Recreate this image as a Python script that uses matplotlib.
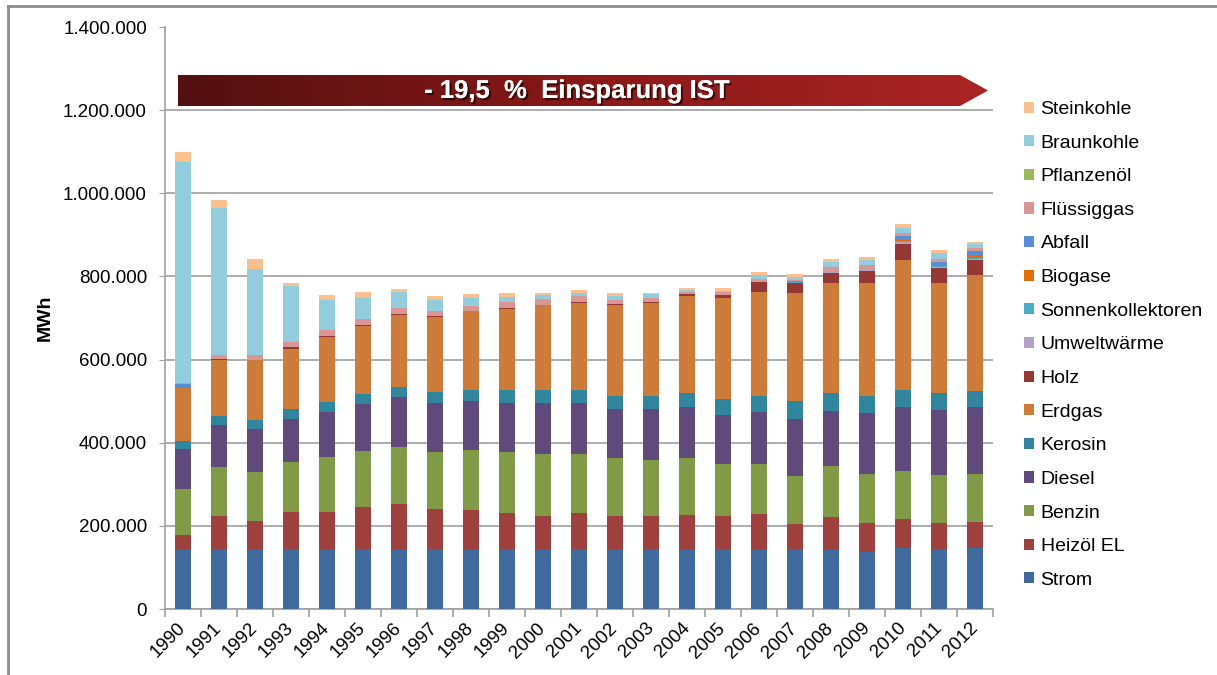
import matplotlib
matplotlib.use('Agg')
import matplotlib.pyplot as plt
import matplotlib.patheffects as pe
from matplotlib.colors import LinearSegmentedColormap
from matplotlib.patches import Polygon
from matplotlib.ticker import FuncFormatter
import numpy as np

plt.rcParams['font.family'] = ['Liberation Sans', 'DejaVu Sans']

years = ['1990', '1991', '1992', '1993', '1994', '1995', '1996', '1997', '1998', '1999', '2000', '2001',
         '2002', '2003', '2004', '2005', '2006', '2007', '2008', '2009', '2010', '2011', '2012']

# MWh per year
strom = [145000, 145000, 145000, 145000, 145000, 145000, 145000, 145000, 145000, 145000, 145000, 145000,
         145000, 145000, 145000, 145000, 145000, 144000, 144000, 138000, 146000, 144000, 146000]
heizoel = [32000, 79000, 66500, 89000, 89000, 101000, 108000, 96500, 92000, 85500, 78000, 85500,
           78000, 78000, 80500, 78000, 83000, 61500, 78500, 69500, 71000, 63000, 64000]
benzin = [111500, 116500, 117500, 120000, 131500, 133500, 136000, 136000, 145500, 147000, 149500, 142500,
          141000, 136000, 138500, 127000, 120000, 114500, 121500, 117500, 115000, 115000, 115000]
diesel = [95500, 101500, 104500, 103000, 107500, 113500, 121000, 118500, 117500, 118500, 123000, 123000,
          117500, 121000, 122500, 116000, 125500, 137000, 133000, 145500, 154500, 157500, 161500]
kerosin = [20000, 22000, 20500, 23000, 25000, 25000, 25000, 27000, 27000, 31000, 31000, 31000,
           32000, 32000, 33500, 38500, 40000, 43000, 41500, 43000, 41000, 41000, 37500]
erdgas = [128000, 134000, 144000, 146500, 156500, 162500, 172000, 178500, 189000, 195000, 204000, 209000,
          217500, 224000, 233500, 243000, 249500, 261000, 265500, 270500, 313000, 263000, 280000]
holz = [0, 3000, 0, 3000, 1000, 3000, 3000, 3000, 1000, 1000, 1000, 3000,
        3000, 3000, 4000, 8000, 23000, 23000, 24000, 29000, 38500, 36000, 36000]
umwelt = [0, 0, 0, 0, 0, 0, 0, 0, 0, 0, 0, 0,
          0, 0, 0, 0, 2000, 1000, 2500, 1500, 3000, 3000, 2500]
sonnen = [0, 0, 0, 0, 0, 0, 0, 0, 0, 0, 0, 0,
          0, 0, 0, 0, 1000, 1000, 1000, 1000, 3000, 1500, 2500]
biogase = [0, 0, 0, 0, 0, 0, 0, 0, 0, 0, 0, 0,
           0, 0, 0, 0, 0, 2500, 0, 1000, 2500, 1500, 7000]
abfall = [9000, 0, 0, 0, 0, 0, 0, 0, 0, 0, 0, 0,
          0, 0, 0, 0, 0, 0, 0, 0, 9500, 9500, 9000]
fluessiggas = [2000, 9500, 12500, 13000, 15500, 13000, 13000, 13000, 12000, 15000, 15000, 13000,
               10500, 9000, 5500, 6500, 4500, 4000, 9500, 8000, 5500, 6500, 8500]
pflanzenoel = [0, 0, 0, 0, 0, 0, 0, 0, 0, 0, 0, 0,
               0, 0, 0, 0, 0, 0, 1000, 3000, 3000, 0, 0]
braunkohle = [532000, 355000, 206500, 134500, 72000, 51000, 38500, 27000, 19000, 12000, 9000, 9000,
              9500, 9000, 5500, 4000, 9500, 6500, 12000, 12000, 11000, 16000, 8000]
steinkohle = [24000, 17500, 24000, 6500, 12000, 14500, 9000, 9500, 9000, 9000, 5000, 7000,
              6500, 4000, 3000, 5500, 6500, 7000, 9000, 7000, 9500, 6500, 6500]

series = [
    ('Strom', strom, '#406A9C'),
    ('Heizöl EL', heizoel, '#9E403E'),
    ('Benzin', benzin, '#809A48'),
    ('Diesel', diesel, '#604A7B'),
    ('Kerosin', kerosin, '#31859C'),
    ('Erdgas', erdgas, '#CC7B38'),
    ('Holz', holz, '#953735'),
    ('Umweltwärme', umwelt, '#B3A2C7'),
    ('Sonnenkollektoren', sonnen, '#4BACC6'),
    ('Biogase', biogase, '#E46C0A'),
    ('Abfall', abfall, '#558ED5'),
    ('Flüssiggas', fluessiggas, '#D99694'),
    ('Pflanzenöl', pflanzenoel, '#9BBB59'),
    ('Braunkohle', braunkohle, '#93CDDD'),
    ('Steinkohle', steinkohle, '#FAC090'),
]

W, H = 1217, 675
fig = plt.figure(figsize=(W / 100, H / 100), dpi=100)
ax = fig.add_axes([165 / W, 66 / H, 828 / W, 582 / H])

x = np.arange(len(years))
bottom = np.zeros(len(years))
handles = []
for name, vals, col in series:
    b = ax.bar(x, vals, 0.42, bottom=bottom, color=col, linewidth=0, label=name, zorder=3)
    bottom += np.array(vals)
    handles.append(b)

ax.set_xlim(-0.5, len(years) - 0.5)
ax.set_ylim(0, 1400000)
ax.set_yticks(np.arange(0, 1400001, 200000))
ax.yaxis.set_major_formatter(FuncFormatter(lambda v, p: f'{int(v):,}'.replace(',', '.')))
ax.yaxis.grid(True, color='#A0A0A0', linewidth=1.2, zorder=0)
ax.get_ygridlines()[-1].set_visible(False)
ax.set_axisbelow(True)

for s in ['top', 'right']:
    ax.spines[s].set_visible(False)
for s in ['left', 'bottom']:
    ax.spines[s].set_color('#A0A0A0')
    ax.spines[s].set_linewidth(1.2)

ax.tick_params(axis='y', length=4, color='#A0A0A0', pad=9, labelsize=13.5)
ax.set_xticks(x)
ax.set_xticklabels(years, rotation=45, ha='right', va='center', rotation_mode='anchor', fontsize=13.5)
ax.tick_params(axis='x', which='major', length=0, pad=12)
ax.set_xticks(np.arange(-0.5, len(years)), minor=True)
ax.tick_params(axis='x', which='minor', length=6, color='#A0A0A0', width=1.2)

fig.text(45 / W, 1 - 318 / H, 'MWh', rotation=90, ha='center', va='center', fontsize=14, fontweight='bold')

fig.legend(handles[::-1], [s[0] for s in series][::-1], loc='upper left',
           bbox_to_anchor=(1024 / W, 1 - 101 / H), frameon=False, fontsize=14,
           labelspacing=0.855, handlelength=0.5, handleheight=0.5, handletextpad=0.35,
           borderpad=0, borderaxespad=0)

# overlay in pixel coordinates for frame and banner
ov = fig.add_axes([0, 0, 1, 1], zorder=10)
ov.set_xlim(0, W)
ov.set_ylim(H, 0)
ov.axis('off')
ov.patch.set_alpha(0)

ov.plot([8, W], [5.5, 5.5], color='#8C8C8C', lw=2)
ov.plot([8, 8], [5.5, H], color='#8C8C8C', lw=2)

arrow = Polygon([(178, 75), (960, 75), (988, 90.5), (960, 106), (178, 106)], closed=True,
                facecolor='none', edgecolor='none')
ov.add_patch(arrow)
cmap = LinearSegmentedColormap.from_list('banner', ['#521010', '#8A1818', '#AA2424'])
grad = np.linspace(0, 1, 256).reshape(1, -1)
im = ov.imshow(grad, cmap=cmap, extent=(178, 988, 106, 75), aspect='auto', interpolation='bilinear')
im.set_clip_path(arrow)
ov.set_xlim(0, W)
ov.set_ylim(H, 0)

ov.text(577, 91, '- 19,5  %  Einsparung IST', color='white', fontsize=18.5, fontweight='bold',
        ha='center', va='center',
        path_effects=[pe.withSimplePatchShadow(offset=(1.5, -1.5), shadow_rgbFace='black', alpha=0.6),
                      pe.Normal()])

fig.savefig('out.png', dpi=100)
